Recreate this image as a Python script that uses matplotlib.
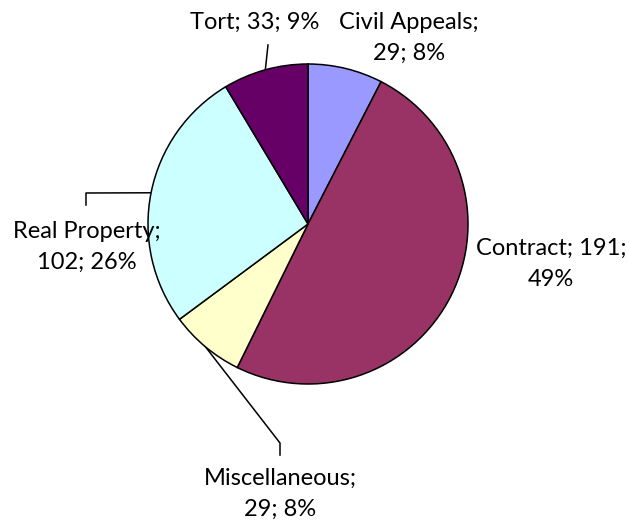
import numpy as np
import matplotlib.pyplot as plt

plt.rcParams['font.family'] = ['Lato', 'DejaVu Sans']

###### DATA ##########
categories = ['Civil Appeals', 'Contract', 'Miscellaneous', 'Real Property', 'Tort']
counts = [29, 191, 29, 102, 33]
percents = ['8%', '49%', '8%', '26%', '9%']
colors = ['#9999FF', '#993366', '#FFFFCC', '#CCFFFF', '#660066']
######################

W, H = 629, 521
fig = plt.figure(figsize=(W / 100, H / 100), dpi=100)
ax = fig.add_axes([0, 0, 1, 1])
ax.set_xlim(0, W)
ax.set_ylim(0, H)
ax.set_aspect('equal')
ax.axis('off')

cx, cy, r = 308, H - 224, 160
wedges, _ = ax.pie(counts, colors=colors, startangle=90, counterclock=False,
                   center=(cx, cy), radius=r,
                   wedgeprops=dict(edgecolor='black', linewidth=1.1))
ax.set_xlim(0, W)
ax.set_ylim(0, H)


def mid_point(w):
    a = np.deg2rad((w.theta1 + w.theta2) / 2)
    return cx + r * np.cos(a), cy + r * np.sin(a)


# label text layout (pixel x, pixel y from top, text)
labels = {
    'Civil Appeals': (409, 38, 'Civil Appeals;\n29; 8%'),
    'Contract': (551, 264, 'Contract; 191;\n49%'),
    'Miscellaneous': (280, 494, 'Miscellaneous;\n29; 8%'),
    'Real Property': (87, 247, 'Real Property;\n102; 26%'),
    'Tort': (255, 22, 'Tort; 33; 9%'),
}
for name, cnt, pct in zip(categories, counts, percents):
    x, y, txt = labels[name]
    ax.text(x, H - y, txt, ha='center', va='center', fontsize=17,
            linespacing=1.58, color='black')

# leader lines (bend points in pixel coords)
leaders = {
    'Tort': [(268, 45)],
    'Real Property': [(86, 193), (86, 205)],
    'Miscellaneous': [(280, 443), (280, 455)],
}
for w, name in zip(wedges, categories):
    if name in leaders:
        sx, sy = mid_point(w)
        pts = [(sx, sy)] + [(px, H - py) for px, py in leaders[name]]
        xs, ys = zip(*pts)
        ax.plot(xs, ys, color='black', linewidth=1.1, zorder=0.5)

fig.savefig('out.png', dpi=100)
